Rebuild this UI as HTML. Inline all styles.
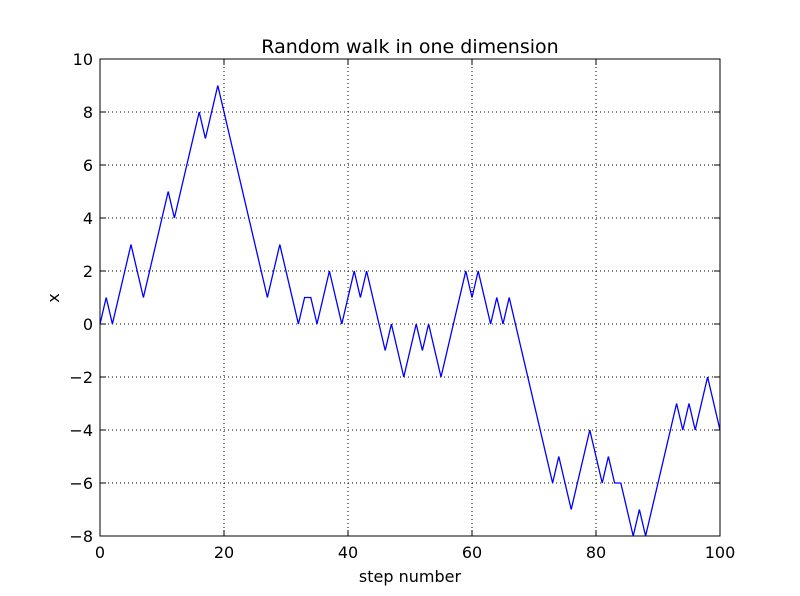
<!DOCTYPE html>
<html><head><meta charset="utf-8"><style>
html,body{margin:0;padding:0;background:#fff;}
svg{display:block;font-family:"DejaVu Sans","Liberation Sans",sans-serif;}
</style></head><body>
<svg id="chart" width="800" height="596" viewBox="0 0 800 596">
<rect x="0" y="0" width="800" height="596" fill="#fff"/>
<text x="410" y="53" text-anchor="middle" font-size="19">Random walk in one dimension</text>
<g id="grid"></g>
<g id="series"></g>
<rect x="100" y="59" width="620" height="477" fill="none" stroke="#000" stroke-width="1"/>
<g id="ticks"></g>
<text x="410" y="582" text-anchor="middle" font-size="16">step number</text>
<text x="59" y="298" text-anchor="middle" font-size="16" transform="rotate(-90 59 298)">x</text>
</svg>
<script>
const steps = Array.from({length:101},(_, i)=>i);
const walk = [0,1,0,1,2,3,2,1,2,3,4,5,4,5,6,7,8,7,8,9,8,7,6,5,4,3,2,1,2,3,2,1,0,1,1,0,1,2,1,0,1,2,1,2,1,0,-1,0,-1,-2,-1,0,-1,0,-1,-2,-1,0,1,2,1,2,1,0,1,0,1,0,-1,-2,-3,-4,-5,-6,-5,-6,-7,-6,-5,-4,-5,-6,-5,-6,-6,-7,-8,-7,-8,-7,-6,-5,-4,-3,-4,-3,-4,-3,-2,-3,-4];
const xTicks = [0,20,40,60,80,100];
const yTicks = [-8,-6,-4,-2,0,2,4,6,8,10];
const L=100,R=720,T=59,B=536;
const xs = v => L + (v-0)/(100-0)*(R-L);
const ys = v => B - (v-(-8))/(10-(-8))*(B-T);
const NS="http://www.w3.org/2000/svg";
const grid=document.getElementById('grid'), ticks=document.getElementById('ticks'), series=document.getElementById('series');
function mk(tag,attrs,parent){const e=document.createElementNS(NS,tag);for(const k in attrs)e.setAttribute(k,attrs[k]);parent.appendChild(e);return e;}
xTicks.forEach(v=>{
  const x=xs(v);
  const g=mk('line',{x1:x,x2:x,y1:T,y2:B,stroke:'#000','stroke-dasharray':'1,3','stroke-width':1},grid);
  
  
  mk('line',{x1:x,x2:x,y1:B,y2:B-6,stroke:'#000'},ticks);
  mk('line',{x1:x,x2:x,y1:T,y2:T+6,stroke:'#000'},ticks);
  const t=mk('text',{x:x,y:B+22,'text-anchor':'middle','font-size':16},ticks);
  t.textContent=v;
  
  
});
yTicks.forEach(v=>{
  const y=ys(v);
  const g=mk('line',{x1:L,x2:R,y1:y,y2:y,stroke:'#000','stroke-dasharray':'1,3','stroke-width':1},grid);
  
  
  mk('line',{x1:L,x2:L+6,y1:y,y2:y,stroke:'#000'},ticks);
  mk('line',{x1:R,x2:R-6,y1:y,y2:y,stroke:'#000'},ticks);
  const t=mk('text',{x:L-7,y:y+6,'text-anchor':'end','font-size':16},ticks);
  t.textContent=v<0?'\u2212'+(-v):v;
  
  
});
const pts=steps.map((s,i)=>xs(s).toFixed(2)+','+ys(walk[i]).toFixed(2)).join(' ');
const pl=mk('polyline',{points:pts,fill:'none',stroke:'#0000ff','stroke-width':1.3,'stroke-linejoin':'miter'},series);


</script>
</body></html>
